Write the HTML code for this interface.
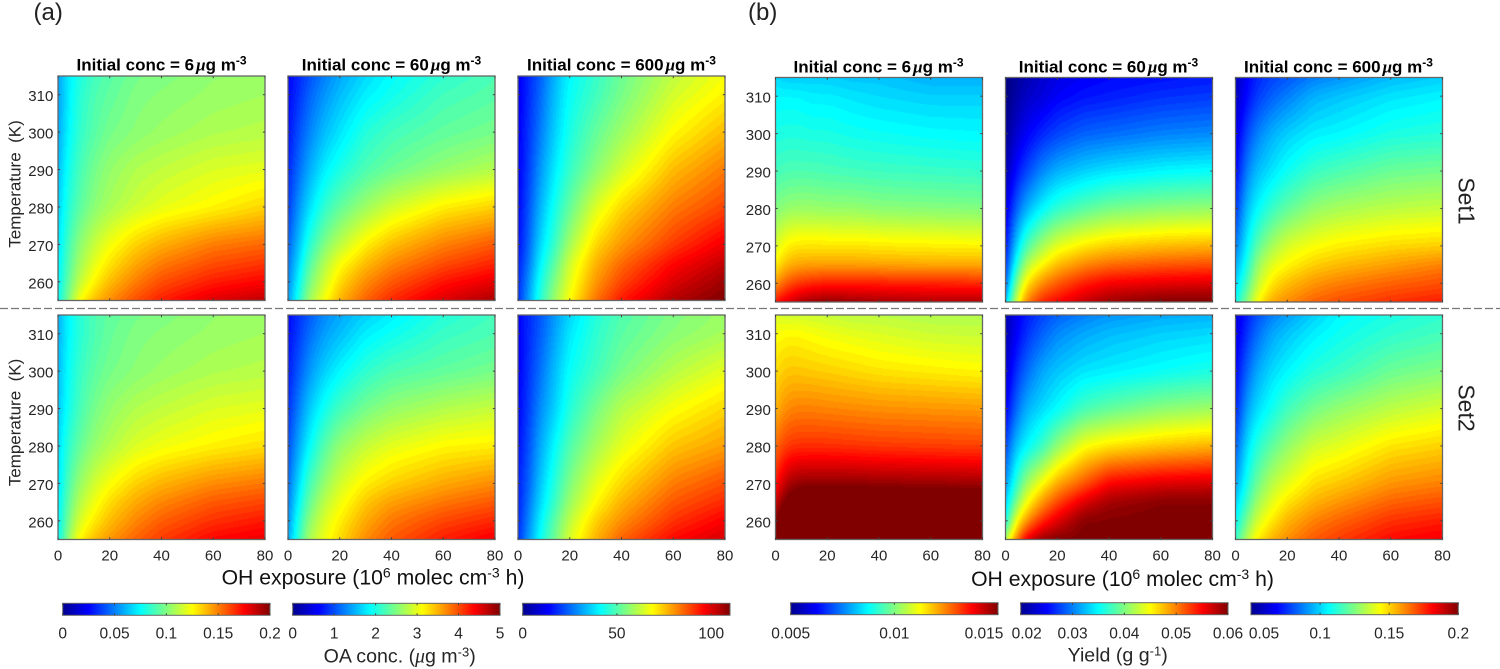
<!DOCTYPE html>
<html lang="en">
<head>
<meta charset="utf-8">
<title>OA concentration and yield versus OH exposure and temperature</title>
<style>
html,body{margin:0;padding:0;background:#fff}
#figure{position:relative;width:1500px;height:669px;overflow:hidden;background:#fff;font-family:"Liberation Sans",sans-serif}
#figure canvas{position:absolute;display:block}
#overlay{position:absolute;left:0;top:0}
#overlay text{font-family:"Liberation Sans",sans-serif;fill:#262626}
.title{font-size:17px;font-weight:bold;text-anchor:middle;fill:#000 !important}
.tick{font-size:15px}
.cbtick{font-size:15.5px}
.ytitle{font-size:17px}
.axis{font-size:21.2px;fill:#111 !important}
.cbtitle{font-size:19.6px}
.mu{font-family:"Liberation Serif",serif !important;font-style:italic}
.tag{font-size:24px;fill:#222 !important}
.setlabel{font-size:23px;fill:#222 !important}
</style>
</head>
<body>
<div id="figure">
<svg id="overlay" width="1500" height="669" viewBox="0 0 1500 669" xmlns="http://www.w3.org/2000/svg">
  <defs>
    <linearGradient id="jetGradient" x1="0" x2="1" y1="0" y2="0">
      <stop offset="0" stop-color="#00008f"/>
      <stop offset="0.125" stop-color="#0000ff"/>
      <stop offset="0.375" stop-color="#00ffff"/>
      <stop offset="0.625" stop-color="#ffff00"/>
      <stop offset="0.875" stop-color="#ff0000"/>
      <stop offset="1" stop-color="#800000"/>
    </linearGradient>
  </defs>

  <text class="tag" x="33.5" y="20">(a)</text>
  <text class="tag" x="748" y="20">(b)</text>

  <text class="title" x="161.5" y="70.5">Initial conc = 6<tspan class="mu" dx="2">μ</tspan>g m<tspan dy="-6" font-size="12">-3</tspan></text>
  <text class="title" x="391.5" y="70.5">Initial conc = 60<tspan class="mu" dx="2">μ</tspan>g m<tspan dy="-6" font-size="12">-3</tspan></text>
  <text class="title" x="621.5" y="70.5">Initial conc = 600<tspan class="mu" dx="2">μ</tspan>g m<tspan dy="-6" font-size="12">-3</tspan></text>
  <text class="title" x="878.5" y="72.5">Initial conc = 6<tspan class="mu" dx="2">μ</tspan>g m<tspan dy="-6" font-size="12">-3</tspan></text>
  <text class="title" x="1108.5" y="72.5">Initial conc = 60<tspan class="mu" dx="2">μ</tspan>g m<tspan dy="-6" font-size="12">-3</tspan></text>
  <text class="title" x="1338.5" y="72.5">Initial conc = 600<tspan class="mu" dx="2">μ</tspan>g m<tspan dy="-6" font-size="12">-3</tspan></text>

  <text class="ytitle" transform="translate(20.5,184) rotate(-90)" text-anchor="middle">Temperature&#160;&#160;(K)</text>
  <text class="ytitle" transform="translate(20.5,422.5) rotate(-90)" text-anchor="middle">Temperature&#160;&#160;(K)</text>

  <text class="axis" x="373" y="584.5" text-anchor="middle">OH exposure (10<tspan dy="-7" font-size="14">6</tspan><tspan dy="7"> molec cm</tspan><tspan dy="-7" font-size="14">-3</tspan><tspan dy="7"> h)</tspan></text>
  <text class="axis" x="1122.5" y="586" text-anchor="middle">OH exposure (10<tspan dy="-7" font-size="14">6</tspan><tspan dy="7"> molec cm</tspan><tspan dy="-7" font-size="14">-3</tspan><tspan dy="7"> h)</tspan></text>

  <text class="cbtitle" x="399.7" y="662.7" text-anchor="middle">OA conc. (<tspan class="mu">μ</tspan>g m<tspan dy="-6" font-size="13">-3</tspan><tspan dy="6">)</tspan></text>
  <text class="cbtitle" x="1117.7" y="661.7" text-anchor="middle">Yield (g g<tspan dy="-6" font-size="13">-1</tspan><tspan dy="6">)</tspan></text>

  <text class="setlabel" transform="translate(1458.5,201) rotate(90)" text-anchor="middle">Set1</text>
  <text class="setlabel" transform="translate(1458.5,408) rotate(90)" text-anchor="middle">Set2</text>

  <line x1="0" x2="1500" y1="308.5" y2="308.5" stroke="#777" stroke-width="1.2" stroke-dasharray="8 3"/>
</svg>
</div>

<script>
// Axes of every heatmap grid
const exposureAxis = [0, 4, 8, 14, 20, 30, 40, 60, 80];
const temperatureAxis = [315, 310, 300, 290, 280, 270, 265, 260, 255];
const exposureTicks = [0, 20, 40, 60, 80];
const temperatureTicks = [260, 270, 280, 290, 300, 310];

// (a) OA concentration, ug m-3. Rows follow temperatureAxis, columns follow exposureAxis.
const oaSet1Conc6 = [
[.056,.072,.080,.088,.092,.098,.100,.104,.104],
[.056,.072,.082,.090,.094,.100,.102,.105,.107],
[.058,.074,.084,.092,.098,.102,.105,.109,.111],
[.062,.078,.088,.098,.104,.110,.113,.118,.120],
[.066,.082,.092,.102,.108,.115,.120,.126,.133],
[.070,.088,.102,.114,.123,.134,.141,.151,.155],
[.072,.091,.106,.120,.130,.142,.151,.160,.165],
[.074,.094,.112,.127,.138,.151,.160,.170,.175],
[.076,.100,.124,.138,.148,.160,.170,.182,.188]];
const oaSet1Conc60 = [
[.63,.80,1.0,1.25,1.45,1.7,1.88,2.1,2.25],
[.65,.85,1.1,1.35,1.55,1.8,1.95,2.2,2.3],
[.7,1.0,1.25,1.55,1.75,2.05,2.2,2.35,2.45],
[.8,1.15,1.45,1.8,2.0,2.25,2.4,2.6,2.75],
[.9,1.35,1.7,2.1,2.35,2.65,2.9,3.2,3.35],
[1.1,1.55,2.05,2.5,2.8,3.2,3.45,3.75,3.95],
[1.2,1.7,2.25,2.75,3.1,3.45,3.7,4.0,4.2],
[1.3,1.85,2.45,2.9,3.3,3.7,3.95,4.3,4.5],
[1.4,2.0,2.65,3.1,3.5,3.9,4.2,4.55,4.8]];
const oaSet1Conc600 = [
[12,18,23,33,41,47,53,62,68],
[12,18,24,34,42,48,54,64,70],
[13,19,26,36,44,52,58,69,76],
[13,20,29,39,47,56,64,76,83],
[14,22,32,43,52,65,73,83,89],
[15,24,36,47,59,73,80,90,98],
[17,26,39,51,64,77,85,96,103],
[18,29,42,55,66,80,89,100,107],
[19,31,44,58,69,84,94,105,110]];
const oaSet2Conc6 = [
[.060,.074,.082,.090,.094,.098,.100,.104,.105],
[.060,.074,.082,.090,.095,.100,.102,.105,.107],
[.062,.076,.085,.093,.098,.102,.105,.109,.111],
[.064,.078,.088,.098,.104,.110,.113,.118,.120],
[.068,.084,.094,.104,.110,.118,.122,.127,.131],
[.070,.090,.104,.116,.124,.134,.140,.148,.152],
[.072,.094,.110,.122,.132,.142,.149,.158,.162],
[.074,.098,.117,.129,.138,.149,.157,.166,.171],
[.076,.104,.126,.138,.146,.156,.164,.175,.179]];
const oaSet2Conc60 = [
[.65,.85,1.05,1.3,1.45,1.65,1.8,2.05,2.2],
[.68,.9,1.15,1.4,1.55,1.8,1.93,2.15,2.25],
[.75,1.05,1.35,1.65,1.85,2.1,2.25,2.35,2.45],
[.85,1.25,1.6,1.95,2.2,2.45,2.6,2.75,2.85],
[1.0,1.45,1.85,2.3,2.6,2.85,3.0,3.15,3.2],
[1.15,1.7,2.2,2.6,2.9,3.2,3.35,3.55,3.7],
[1.25,1.85,2.35,2.8,3.05,3.4,3.6,3.8,3.95],
[1.35,2.0,2.55,2.95,3.2,3.55,3.8,4.05,4.2],
[1.45,2.1,2.7,3.05,3.3,3.7,3.95,4.25,4.45]];
const oaSet2Conc600 = [
[13,18,22,30,37,45,50,55,58],
[13,18,23,31,39,46,51,56,59],
[13,19,25,34,42,48,54,61,66],
[14,20,28,36,45,54,61,68,73],
[15,22,31,41,50,59,66,75,79],
[17,24,34,45,55,66,73,83,88],
[17,26,36,47,58,69,77,87,92],
[18,28,39,51,62,74,81,91,97],
[19,30,41,53,65,77,86,96,101]];

// (b) Yield, in mg g-1 (1 mg g-1 = 0.001 g g-1).
const yieldSet1Conc6 = [
[8.4,8.3,8.3,8.3,8.3,8.2,8.2,8.0,8.0],
[8.7,8.7,8.7,8.6,8.6,8.5,8.4,8.3,8.3],
[9.0,9.05,9.05,9.0,9.0,8.9,8.85,8.75,8.7],
[9.4,9.5,9.5,9.5,9.45,9.4,9.35,9.3,9.25],
[10.0,10.2,10.25,10.25,10.2,10.2,10.1,10.05,10.0],
[10.9,11.35,11.5,11.5,11.5,11.5,11.45,11.4,11.35],
[11.4,11.9,12.1,12.15,12.15,12.15,12.1,12.05,12.05],
[12.3,12.9,13.2,13.4,13.5,13.5,13.5,13.45,13.4],
[13.6,14.0,14.4,14.7,14.8,14.7,14.6,14.5,14.5]];
const yieldSet1Conc60 = [
[20,21.2,22,23.2,24,24.8,25.2,25.6,26],
[20,21.6,22.8,23.6,24.8,25.6,26,26.8,27.2],
[20.8,23.2,24.8,26.4,27.6,28.8,29.2,30,30.4],
[22,25.6,27.6,30.4,32,33.2,34,34.8,35.2],
[24,28.8,32,34.8,36.8,38.4,39.6,40.4,40.8],
[26,33.2,38,41.6,44,45.8,46.8,47.6,48],
[27.6,36,42,45.2,47.6,49.6,50.8,51.6,52],
[29.6,40,46,49.6,51.6,54,55.4,56,56.4],
[33.2,43.2,50,53.6,55,57.2,58.8,60,60]];
const yieldSet1Conc600 = [
[59,68,74,78.5,81.5,87.5,90.5,96.5,99.5],
[60.5,69.5,77,83,87.5,95,98,102.5,105],
[65,78.5,87.5,95,99.5,104,105.5,110,111.5],
[69.5,87.5,96.5,102.5,108,114.5,117.5,122,123.5],
[77,96.5,105.5,114.5,120.5,128,131,134,135.5],
[87.5,104,119,131,138.5,143,146,149,150.5],
[95,108.5,128,140,144.5,150.5,153.5,158,162.5],
[101,116,134,147.5,153.5,159.5,163,167,170],
[108.5,125,143,156.5,161,167,170,174.5,177.5]];
const yieldSet2Conc6 = [
[10.9,10.8,10.8,10.75,10.7,10.6,10.6,10.5,10.5],
[11.2,11.3,11.3,11.2,11.1,11.0,10.9,10.75,10.7],
[11.6,11.8,11.8,11.75,11.7,11.6,11.5,11.4,11.3],
[12.0,12.4,12.5,12.5,12.45,12.4,12.35,12.3,12.25],
[12.75,13.2,13.3,13.3,13.3,13.25,13.2,13.15,13.1],
[13.6,14.5,14.8,14.85,14.85,14.85,14.8,14.75,14.7],
[14.3,15.2,15.6,15.8,15.8,15.8,15.8,15.7,15.7],
[15.0,16.0,16.4,16.6,16.6,16.6,16.6,16.5,16.5],
[15.8,16.6,17,17,17,17,17,17,17]];
const yieldSet2Conc60 = [
[22,24.4,26,27.6,28.8,30,30.8,31.6,32],
[22,24.8,26.8,28.8,30.4,31.6,32.4,33.2,33.6],
[23.2,26.8,29.2,31.6,32.8,34,34.4,35.2,36],
[24.8,29.2,32,33.6,35,37.6,38.8,40.4,41.2],
[28,32.8,34.8,37.2,40.8,44.8,46,47.2,48],
[31.2,36.8,41.2,45,48.4,51.6,55.2,56.4,56.8],
[33.6,40,44.8,49.2,52.4,56.4,58.8,60,60],
[36,44.8,49.2,53.6,56.4,60,60,60,60],
[42.4,50,56,59.2,60,60,60,60,60]];
const yieldSet2Conc600 = [
[63.5,72.5,80,87.5,92,99.5,105.5,110,113],
[65,75.5,84.5,93.5,98,104,108,113,116],
[69.5,83,93.5,101,105.5,111.5,114.5,122,125],
[74,92,101,108.5,116,123.5,128,134,138],
[83,101,111.5,120.5,128,137,140,147.5,150.5],
[93.5,108.5,122,134,140,149,152,159.5,162.5],
[101,114.5,129.5,140,148,155,159.5,167,170],
[107,123.5,137,147.5,155,162.5,167,174.5,177.5],
[114.5,132.5,146,155,161,168.5,173,180.5,183.5]];

// Colour ranges and colourbar ticks
const rangeOa6 = [0, 0.2];
const rangeOa60 = [0, 5];
const rangeOa600 = [0, 110];
const rangeYield6 = [5, 15];
const rangeYield60 = [20, 60];
const rangeYield600 = [50, 200];
const ticksOa6 = [0, 0.05, 0.1, 0.15, 0.2];
const ticksOa60 = [0, 1, 2, 3, 4, 5];
const ticksOa600 = [0, 50, 100];
const ticksYield6 = [5, 10, 15];
const ticksYield60 = [20, 30, 40, 50, 60];
const ticksYield600 = [50, 100, 150, 200];
const labelsOa6 = ["0", "0.05", "0.1", "0.15", "0.2"];
const labelsOa60 = ["0", "1", "2", "3", "4", "5"];
const labelsOa600 = ["0", "50", "100"];
const labelsYield6 = ["0.005", "0.01", "0.015"];
const labelsYield60 = ["0.02", "0.03", "0.04", "0.05", "0.06"];
const labelsYield600 = ["0.05", "0.1", "0.15", "0.2"];

const figure = document.getElementById('figure');
const overlay = document.getElementById('overlay');
const SVG_NS = 'http://www.w3.org/2000/svg';
const PANEL_W = 207;
const PANEL_H = 224.5;

function make(tag, attrs, text) {
  const el = document.createElementNS(SVG_NS, tag);
  Object.keys(attrs).forEach(function (k) { el.setAttribute(k, attrs[k]); });
  if (text !== undefined) el.textContent = text;
  overlay.appendChild(el);
  return el;
}
function clamp01(v) { return Math.max(0, Math.min(1, v)); }
function jet(p) {
  return [
    255 * clamp01(1.5 - Math.abs(4 * p - 3)),
    255 * clamp01(1.5 - Math.abs(4 * p - 2)),
    255 * clamp01(1.5 - Math.abs(4 * p - 1))
  ];
}
function xScale(panel, v) { return panel.x + (v - 0) / 80 * PANEL_W; }
function yScale(panel, t) { return panel.y + (315 - t) / 60 * PANEL_H; }
function segment(axis, v, descending) {
  for (let i = 0; i < axis.length - 1; i++) {
    const a = axis[i], b = axis[i + 1];
    if ((!descending && v <= b) || (descending && v >= b)) return [i, (v - a) / (b - a)];
  }
  return [axis.length - 2, 1];
}
// Box-smooth one line of samples; edges extend by odd reflection so trends are kept.
function smoothLine(line, radius) {
  const n = line.length, out = new Float64Array(n);
  function at(i) {
    if (i < 0) return 2 * line[0] - line[-i];
    if (i >= n) return 2 * line[n - 1] - line[2 * n - 2 - i];
    return line[i];
  }
  for (let i = 0; i < n; i++) {
    let s = 0;
    for (let k = -radius; k <= radius; k++) s += at(i + k);
    out[i] = s / (2 * radius + 1);
  }
  return out;
}
function drawHeatmap(panel) {
  const canvas = document.createElement('canvas');
  
  
  canvas.width = PANEL_W;
  canvas.height = Math.round(PANEL_H);
  canvas.style.left = panel.x + 'px';
  canvas.style.top = panel.y + 'px';
  canvas.style.width = PANEL_W + 'px';
  canvas.style.height = PANEL_H + 'px';
  figure.insertBefore(canvas, overlay);
  const W = canvas.width, H = canvas.height;
  const field = new Float64Array(W * H);
  for (let j = 0; j < H; j++) {
    const t = 315 - 60 * (j + 0.5) / H;
    const sy = segment(temperatureAxis, t, true);
    for (let i = 0; i < W; i++) {
      const e = 80 * (i + 0.5) / W;
      const sx = segment(exposureAxis, e, false);
      const r0 = panel.values[sy[0]], r1 = panel.values[sy[0] + 1];
      const top = r0[sx[0]] * (1 - sx[1]) + r0[sx[0] + 1] * sx[1];
      const bot = r1[sx[0]] * (1 - sx[1]) + r1[sx[0] + 1] * sx[1];
      field[j * W + i] = top * (1 - sy[1]) + bot * sy[1];
    }
  }
  for (let pass = 0; pass < 2; pass++) {
    for (let j = 0; j < H; j++) {
      const row = smoothLine(field.slice(j * W, (j + 1) * W), 4);
      field.set(row, j * W);
    }
    for (let i = 0; i < W; i++) {
      const col = new Float64Array(H);
      for (let j = 0; j < H; j++) col[j] = field[j * W + i];
      const sm = smoothLine(col, 7);
      for (let j = 0; j < H; j++) field[j * W + i] = sm[j];
    }
  }
  const ctx = canvas.getContext('2d');
  const img = ctx.createImageData(W, H);
  const levels = 72;
  for (let n = 0; n < W * H; n++) {
    const p = clamp01((field[n] - panel.range[0]) / (panel.range[1] - panel.range[0]));
    const c = jet(Math.round(p * levels) / levels);
    img.data[n * 4] = c[0];
    img.data[n * 4 + 1] = c[1];
    img.data[n * 4 + 2] = c[2];
    img.data[n * 4 + 3] = 255;
  }
  ctx.putImageData(img, 0, 0);
}
function drawPanelAxes(panel) {
  const frame = make('rect', { x: panel.x, y: panel.y, width: PANEL_W, height: PANEL_H, fill: 'none', stroke: '#666', 'stroke-width': 1.3 });
  
  
  exposureTicks.forEach(function (v) {
    const x = xScale(panel, v);
    const t1 = make('line', { x1: x, x2: x, y1: panel.y + PANEL_H, y2: panel.y + PANEL_H - 2.2, stroke: '#444', 'stroke-width': 1 });
    
    
    const t2 = make('line', { x1: x, x2: x, y1: panel.y, y2: panel.y + 2.2, stroke: '#444', 'stroke-width': 1 });
    
    
    if (panel.bottom) {
      const lab = make('text', { class: 'tick', x: x, y: 560.7, 'text-anchor': 'middle' }, String(v));
      
      
    }
  });
  temperatureTicks.forEach(function (v) {
    const y = yScale(panel, v);
    const t1 = make('line', { x1: panel.x, x2: panel.x + 2.2, y1: y, y2: y, stroke: '#444', 'stroke-width': 1 });
    
    
    const t2 = make('line', { x1: panel.x + PANEL_W, x2: panel.x + PANEL_W - 2.2, y1: y, y2: y, stroke: '#444', 'stroke-width': 1 });
    
    
    if (panel.left) {
      const lab = make('text', { class: 'tick', x: panel.x - 4.7, y: y + 6.5, 'text-anchor': 'end' }, String(v));
      
      
    }
  });
}
function drawColorbar(bar) {
  const w = 207.3, h = 12;
  const rect = make('rect', { x: bar.x, y: bar.y, width: w, height: h, fill: 'url(#jetGradient)', stroke: '#666', 'stroke-width': 1 });
  
  
  bar.ticks.forEach(function (v, i) {
    const x = bar.x + (v - bar.range[0]) / (bar.range[1] - bar.range[0]) * w;
    const t1 = make('line', { x1: x, x2: x, y1: bar.y + h, y2: bar.y + h - 2, stroke: '#444', 'stroke-width': 1 });
    
    
    const t2 = make('line', { x1: x, x2: x, y1: bar.y, y2: bar.y + 2, stroke: '#444', 'stroke-width': 1 });
    
    
    let shift = 0;
    if (i === 0) shift = bar.firstShift || 0;
    if (i === bar.ticks.length - 1) shift = bar.lastShift || 0;
    const lab = make('text', { class: 'cbtick', x: x + shift, y: 638.5, 'text-anchor': 'middle' }, bar.labels[i]);
    
    
  });
}

const colA = [58, 288, 518];
const colB = [775.5, 1005.5, 1235.5];
const panels = [
  { name: 'a-set1-conc6', values: oaSet1Conc6, range: rangeOa6, x: colA[0], y: 76, left: true, bottom: false },
  { name: 'a-set1-conc60', values: oaSet1Conc60, range: rangeOa60, x: colA[1], y: 76, left: false, bottom: false },
  { name: 'a-set1-conc600', values: oaSet1Conc600, range: rangeOa600, x: colA[2], y: 76, left: false, bottom: false },
  { name: 'b-set1-conc6', values: yieldSet1Conc6, range: rangeYield6, x: colB[0], y: 77.5, left: true, bottom: false },
  { name: 'b-set1-conc60', values: yieldSet1Conc60, range: rangeYield60, x: colB[1], y: 77.5, left: false, bottom: false },
  { name: 'b-set1-conc600', values: yieldSet1Conc600, range: rangeYield600, x: colB[2], y: 77.5, left: false, bottom: false },
  { name: 'a-set2-conc6', values: oaSet2Conc6, range: rangeOa6, x: colA[0], y: 315, left: true, bottom: true },
  { name: 'a-set2-conc60', values: oaSet2Conc60, range: rangeOa60, x: colA[1], y: 315, left: false, bottom: true },
  { name: 'a-set2-conc600', values: oaSet2Conc600, range: rangeOa600, x: colA[2], y: 315, left: false, bottom: true },
  { name: 'b-set2-conc6', values: yieldSet2Conc6, range: rangeYield6, x: colB[0], y: 315, left: true, bottom: true },
  { name: 'b-set2-conc60', values: yieldSet2Conc60, range: rangeYield60, x: colB[1], y: 315, left: false, bottom: true },
  { name: 'b-set2-conc600', values: yieldSet2Conc600, range: rangeYield600, x: colB[2], y: 315, left: false, bottom: true }
];
const colorbars = [
  { name: 'oa-6', range: rangeOa6, ticks: ticksOa6, labels: labelsOa6, x: 62.7, y: 603.3 },
  { name: 'oa-60', range: rangeOa60, ticks: ticksOa60, labels: labelsOa60, x: 292.7, y: 603.3 },
  { name: 'oa-600', range: rangeOa600, ticks: ticksOa600, labels: labelsOa600, x: 522.7, y: 603.3 },
  { name: 'yield-6', range: rangeYield6, ticks: ticksYield6, labels: labelsYield6, x: 790.7, y: 602.7, lastShift: -14 },
  { name: 'yield-60', range: rangeYield60, ticks: ticksYield60, labels: labelsYield60, x: 1020.7, y: 602.7, firstShift: 6 },
  { name: 'yield-600', range: rangeYield600, ticks: ticksYield600, labels: labelsYield600, x: 1251, y: 602.7, firstShift: 13 }
];
panels.forEach(drawHeatmap);
panels.forEach(drawPanelAxes);
colorbars.forEach(drawColorbar);
</script>
</body>
</html>
